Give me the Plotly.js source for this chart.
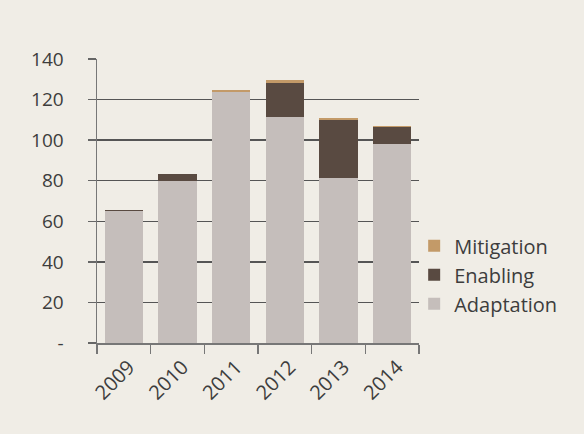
<!DOCTYPE html>
<html><head><meta charset="utf-8">
<script src="https://cdn.plot.ly/plotly-3.0.1.min.js"></script>
<style>html,body{margin:0;padding:0;background:#f0ede6;}</style>
</head><body>
<div id="chart" style="width:584px;height:434px;"></div>
<script>
const years = ['2009','2010','2011','2012','2013','2014'];
const adaptation = [65.1, 80, 123.8, 111.5, 81.4, 98.2];
const enabling = [0.7, 3.5, 0, 16.8, 28.6, 8.4];
const mitigation = [0, 0, 1, 1.5, 1, 0.5];
const yTickVals = [0, 20, 40, 60, 80, 100, 120, 140];
const yTickText = ['-', '20', '40', '60', '80', '100', '120', '140'];

const font = {family: 'Open Sans, sans-serif', size: 19, color: '#3d3d3d'};
const xFont = {family: 'Open Sans, sans-serif', size: 20, color: '#3d3d3d'};
const legendFont = {family: 'Open Sans, sans-serif', size: 20, color: '#3d3d3d'};
const traces = [
  {type: 'bar', name: 'Adaptation', x: years, y: adaptation, marker: {color: '#c5bebb'}},
  {type: 'bar', name: 'Enabling', x: years, y: enabling, marker: {color: '#594a41'}},
  {type: 'bar', name: 'Mitigation', x: years, y: mitigation, marker: {color: '#c39a68'}}
];
const layout = {
  width: 584, height: 434,
  paper_bgcolor: '#f0ede6', plot_bgcolor: '#f0ede6',
  margin: {l: 97, r: 165, t: 59, b: 91},
  barmode: 'stack', bargap: 0.29,
  font: font,
  showlegend: true,
  legend: {x: 0.985, xanchor: 'left', y: 0.24, yanchor: 'middle', traceorder: 'reversed',
           font: legendFont, bgcolor: 'rgba(0,0,0,0)', itemwidth: 30, tracegroupgap: 0},
  xaxis: {type: 'category', tickson: 'boundaries', ticks: 'outside', ticklen: 9, tickcolor: '#777',
          tickwidth: 1.5, showline: true, linecolor: '#777', linewidth: 1.5, showgrid: false,
          tickangle: -45, tickfont: xFont, ticklabelstandoff: 3, ticklabelshift: 5},
  yaxis: {range: [0, 140], tickvals: yTickVals, ticktext: yTickText, ticks: 'outside', ticklen: 8,
          tickcolor: '#666', tickwidth: 1.5, showline: true, linecolor: '#777', linewidth: 1.5,
          showgrid: true, gridcolor: '#555', gridwidth: 1.5, zeroline: false, tickfont: font,
          ticklabelstandoff: 20}
};
Plotly.newPlot('chart', traces, layout, {displayModeBar: false, staticPlot: true});
</script>
</body></html>
